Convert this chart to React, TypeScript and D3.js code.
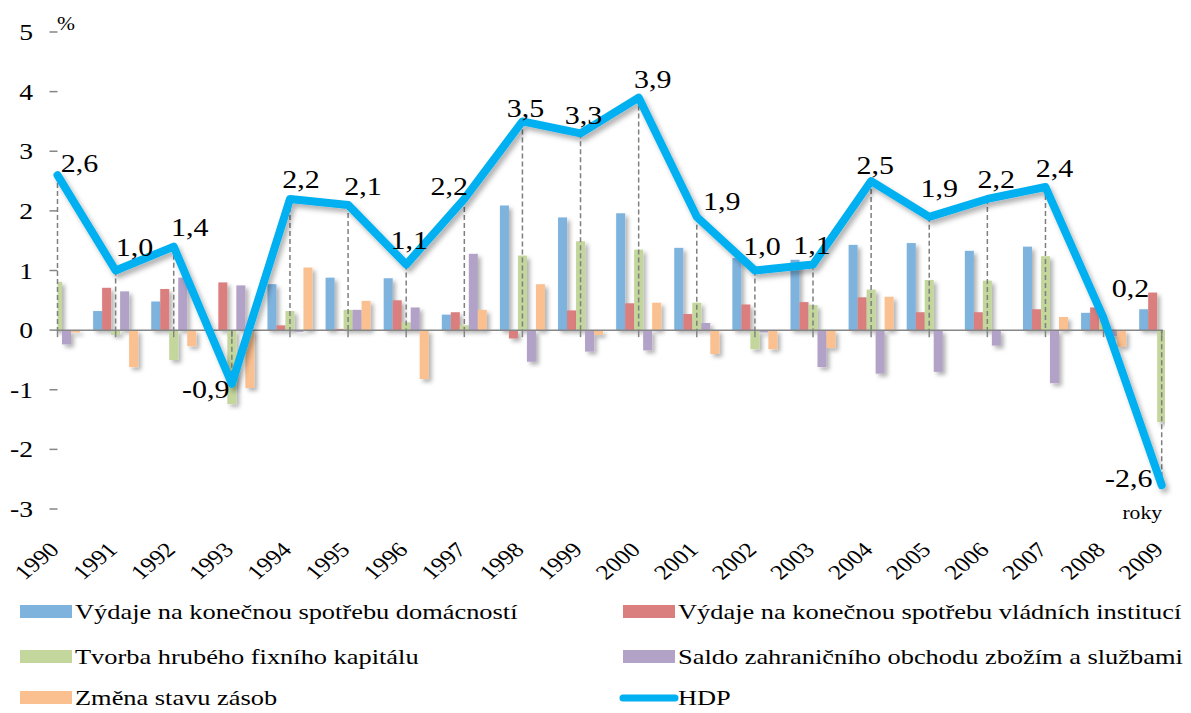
import React from "react";
import * as d3 from "d3";

const years = ["1990","1991","1992","1993","1994","1995","1996","1997","1998","1999","2000","2001","2002","2003","2004","2005","2006","2007","2008","2009"];

const domacnosti: (number | null)[] = [null, 0.32, 0.48, 0.0, 0.77, 0.88, 0.87, 0.26, 2.09, 1.89, 1.96, 1.38, 1.21, 1.18, 1.43, 1.46, 1.33, 1.40, 0.29, 0.35];
const vladni: (number | null)[] = [null, 0.71, 0.69, 0.80, 0.08, 0.02, 0.50, 0.30, -0.14, 0.33, 0.45, 0.27, 0.43, 0.47, 0.55, 0.30, 0.30, 0.35, 0.38, 0.63];
const fixni: (number | null)[] = [0.81, -0.08, -0.50, -1.24, 0.32, 0.34, 0.13, 0.08, 1.25, 1.49, 1.35, 0.46, -0.32, 0.42, 0.68, 0.84, 0.83, 1.24, 0.12, -1.54];
const saldo: (number | null)[] = [-0.24, 0.65, 0.88, 0.75, -0.03, 0.34, 0.38, 1.28, -0.53, -0.36, -0.34, 0.12, -0.04, -0.62, -0.73, -0.70, -0.26, -0.89, -0.10, null];
const zasoby: (number | null)[] = [-0.04, -0.62, -0.27, -0.97, 1.05, 0.49, -0.82, 0.34, 0.77, -0.08, 0.46, -0.40, -0.32, -0.30, 0.56, 0.0, 0.0, 0.22, -0.28, null];
const hdp = [2.6, 1.0, 1.4, -0.9, 2.2, 2.1, 1.1, 2.2, 3.5, 3.3, 3.9, 1.9, 1.0, 1.1, 2.5, 1.9, 2.2, 2.4, 0.2, -2.6];

const seriesNames = [
  "Výdaje na konečnou spotřebu domácností",
  "Výdaje na konečnou spotřebu vládních institucí",
  "Tvorba hrubého fixního kapitálu",
  "Saldo zahraničního obchodu zbožím a službami",
  "Změna stavu zásob",
];
const lineName = "HDP";
const yTicks = [-3, -2, -1, 0, 1, 2, 3, 4, 5];

// label offsets (layout only) relative to each HDP point
const labelOffsets: [number, number][] = [[22,-12],[19,-23],[16,-19],[-26,6],[11,-19],[15,-18],[3,-24],[-15,-12],[3,-13],[3,-18],[14,-18],[25,-15],[7,-24],[-1,-19],[4,-16],[10,-28],[9,-19],[9,-19],[27,-30],[-33,-7]];

const colors = ["#7EB3DE", "#DA7E7E", "#C3D69B", "#B3A2C7", "#FAC090"];
const lineColor = "#00B0F0";
const axisColor = "#868686";
const FONT = "'Liberation Serif', 'Times New Roman', serif";
const SX = 1.2;

function T({ x, y, size, anchor = "start", rot = 0, children }: any) {
  return (
    <g transform={`translate(${x},${y}) scale(${SX},1) rotate(${rot})`}>
      <text x={0} y={0} fontSize={size} fontFamily={FONT} textAnchor={anchor} fill="#000">
        {children}
      </text>
    </g>
  );
}

export default function App() {
  const W = 1191, H = 713;
  const x = d3.scalePoint<string>().domain(years).range([57.5, 1161.7]);
  const y = d3.scaleLinear().domain([-3, 5]).range([509, 32]);
  const inner = d3.scaleBand<number>().domain([0, 1, 2, 3, 4]).range([-22.5, 22.5]).paddingInner(0);
  const allSeries = [domacnosti, vladni, fixni, saldo, zasoby];
  const y0 = y(0);
  const line = d3.line<number>().x((_, i) => x(years[i])!).y((d) => y(d)).curve(d3.curveLinear);
  const fmt = (v: number) => v.toFixed(1).replace(".", ",");

  const legendRows = [
    { col: 0, row: 0, s: 0 },
    { col: 1, row: 0, s: 1 },
    { col: 0, row: 1, s: 2 },
    { col: 1, row: 1, s: 3 },
    { col: 0, row: 2, s: 4 },
  ];
  const legX = [20, 623];
  const legBase = [619, 664, 705];

  return (
    <svg width={W} height={H} style={{ position: "absolute", left: 0, top: 0, background: "#fff" }}>
      <defs>
        <filter id="sh" x="-50%" y="-20%" width="200%" height="140%">
          <feDropShadow dx="3" dy="3" stdDeviation="2.2" floodColor="#000" floodOpacity="0.3" />
        </filter>
        <filter id="shl" x="-5%" y="-10%" width="110%" height="130%">
          <feDropShadow dx="3" dy="4" stdDeviation="2.5" floodColor="#000" floodOpacity="0.3" />
        </filter>
        <clipPath id="plot">
          <rect x={57.5} y={0} width={1165 - 57.5} height={600} />
        </clipPath>
      </defs>

      {/* bars */}
      <g clipPath="url(#plot)">
        {allSeries.map((ser, si) => (
          <g key={si} fill={colors[si]} filter="url(#sh)">
            {ser.map((v, i) => {
              if (v === null) return null;
              const cx = x(years[i])!;
              const bx = cx + inner(si)!;
              const top = Math.min(y(v), y0);
              const h = Math.abs(y(v) - y0);
              return <rect key={i} x={bx} y={top} width={inner.bandwidth()} height={h} />;
            })}
          </g>
        ))}
      </g>

      {/* axes */}
      <g filter="url(#sh)">
        <line x1={57.5} x2={57.5} y1={y(5)} y2={y(-3)} stroke={axisColor} strokeWidth={1.5} />
      </g>
      {yTicks.map((t) => (
        <line key={t} x1={49.5} x2={57.5} y1={y(t)} y2={y(t)} stroke={axisColor} strokeWidth={1.5} />
      ))}
      <line x1={57.5} x2={1163} y1={y0} y2={y0} stroke={axisColor} strokeWidth={1.5} />
      {years.map((yr) => (
        <line key={yr} x1={x(yr)!} x2={x(yr)!} y1={y0} y2={y0 + 7} stroke={axisColor} strokeWidth={1.5} />
      ))}

      {/* drop lines */}
      {hdp.map((v, i) => (
        <line key={i} x1={x(years[i])!} x2={x(years[i])!} y1={y(v)} y2={y0}
          stroke="#7F7F7F" strokeWidth={1.5} strokeDasharray="5,3" />
      ))}

      {/* HDP line */}
      <path d={line(hdp)!} fill="none" stroke={lineColor} strokeWidth={8}
        strokeLinejoin="round" strokeLinecap="round" filter="url(#shl)" />

      {/* data labels */}
      {hdp.map((v, i) => {
        const [dx, dy] = labelOffsets[i];
        return (
          <T key={i} x={x(years[i])! + dx} y={y(v) + dy + 8.5} size={25} anchor="middle">
            {fmt(v)}
          </T>
        );
      })}

      {/* y tick labels */}
      {yTicks.map((t) => (
        <T key={t} x={33} y={y(t) + 8} size={23} anchor="end">{String(t)}</T>
      ))}
      <T x={57} y={30} size={18}>%</T>
      <T x={1162} y={519} size={18} anchor="end">roky</T>

      {/* x tick labels */}
      {years.map((yr) => (
        <T key={yr} x={x(yr)! + 3} y={551} size={21} anchor="end" rot={-45}>{yr}</T>
      ))}

      {/* legend */}
      {legendRows.map((r) => (
        <g key={r.s}>
          <rect x={legX[r.col]} y={legBase[r.row] - 14} width={52} height={13} fill={colors[r.s]} />
          <T x={legX[r.col] + 55} y={legBase[r.row]} size={22}>{seriesNames[r.s]}</T>
        </g>
      ))}
      <line x1={623} x2={675} y1={legBase[2] - 7} y2={legBase[2] - 7} stroke={lineColor} strokeWidth={7} strokeLinecap="round" />
      <T x={678} y={legBase[2]} size={22}>{lineName}</T>
    </svg>
  );
}
